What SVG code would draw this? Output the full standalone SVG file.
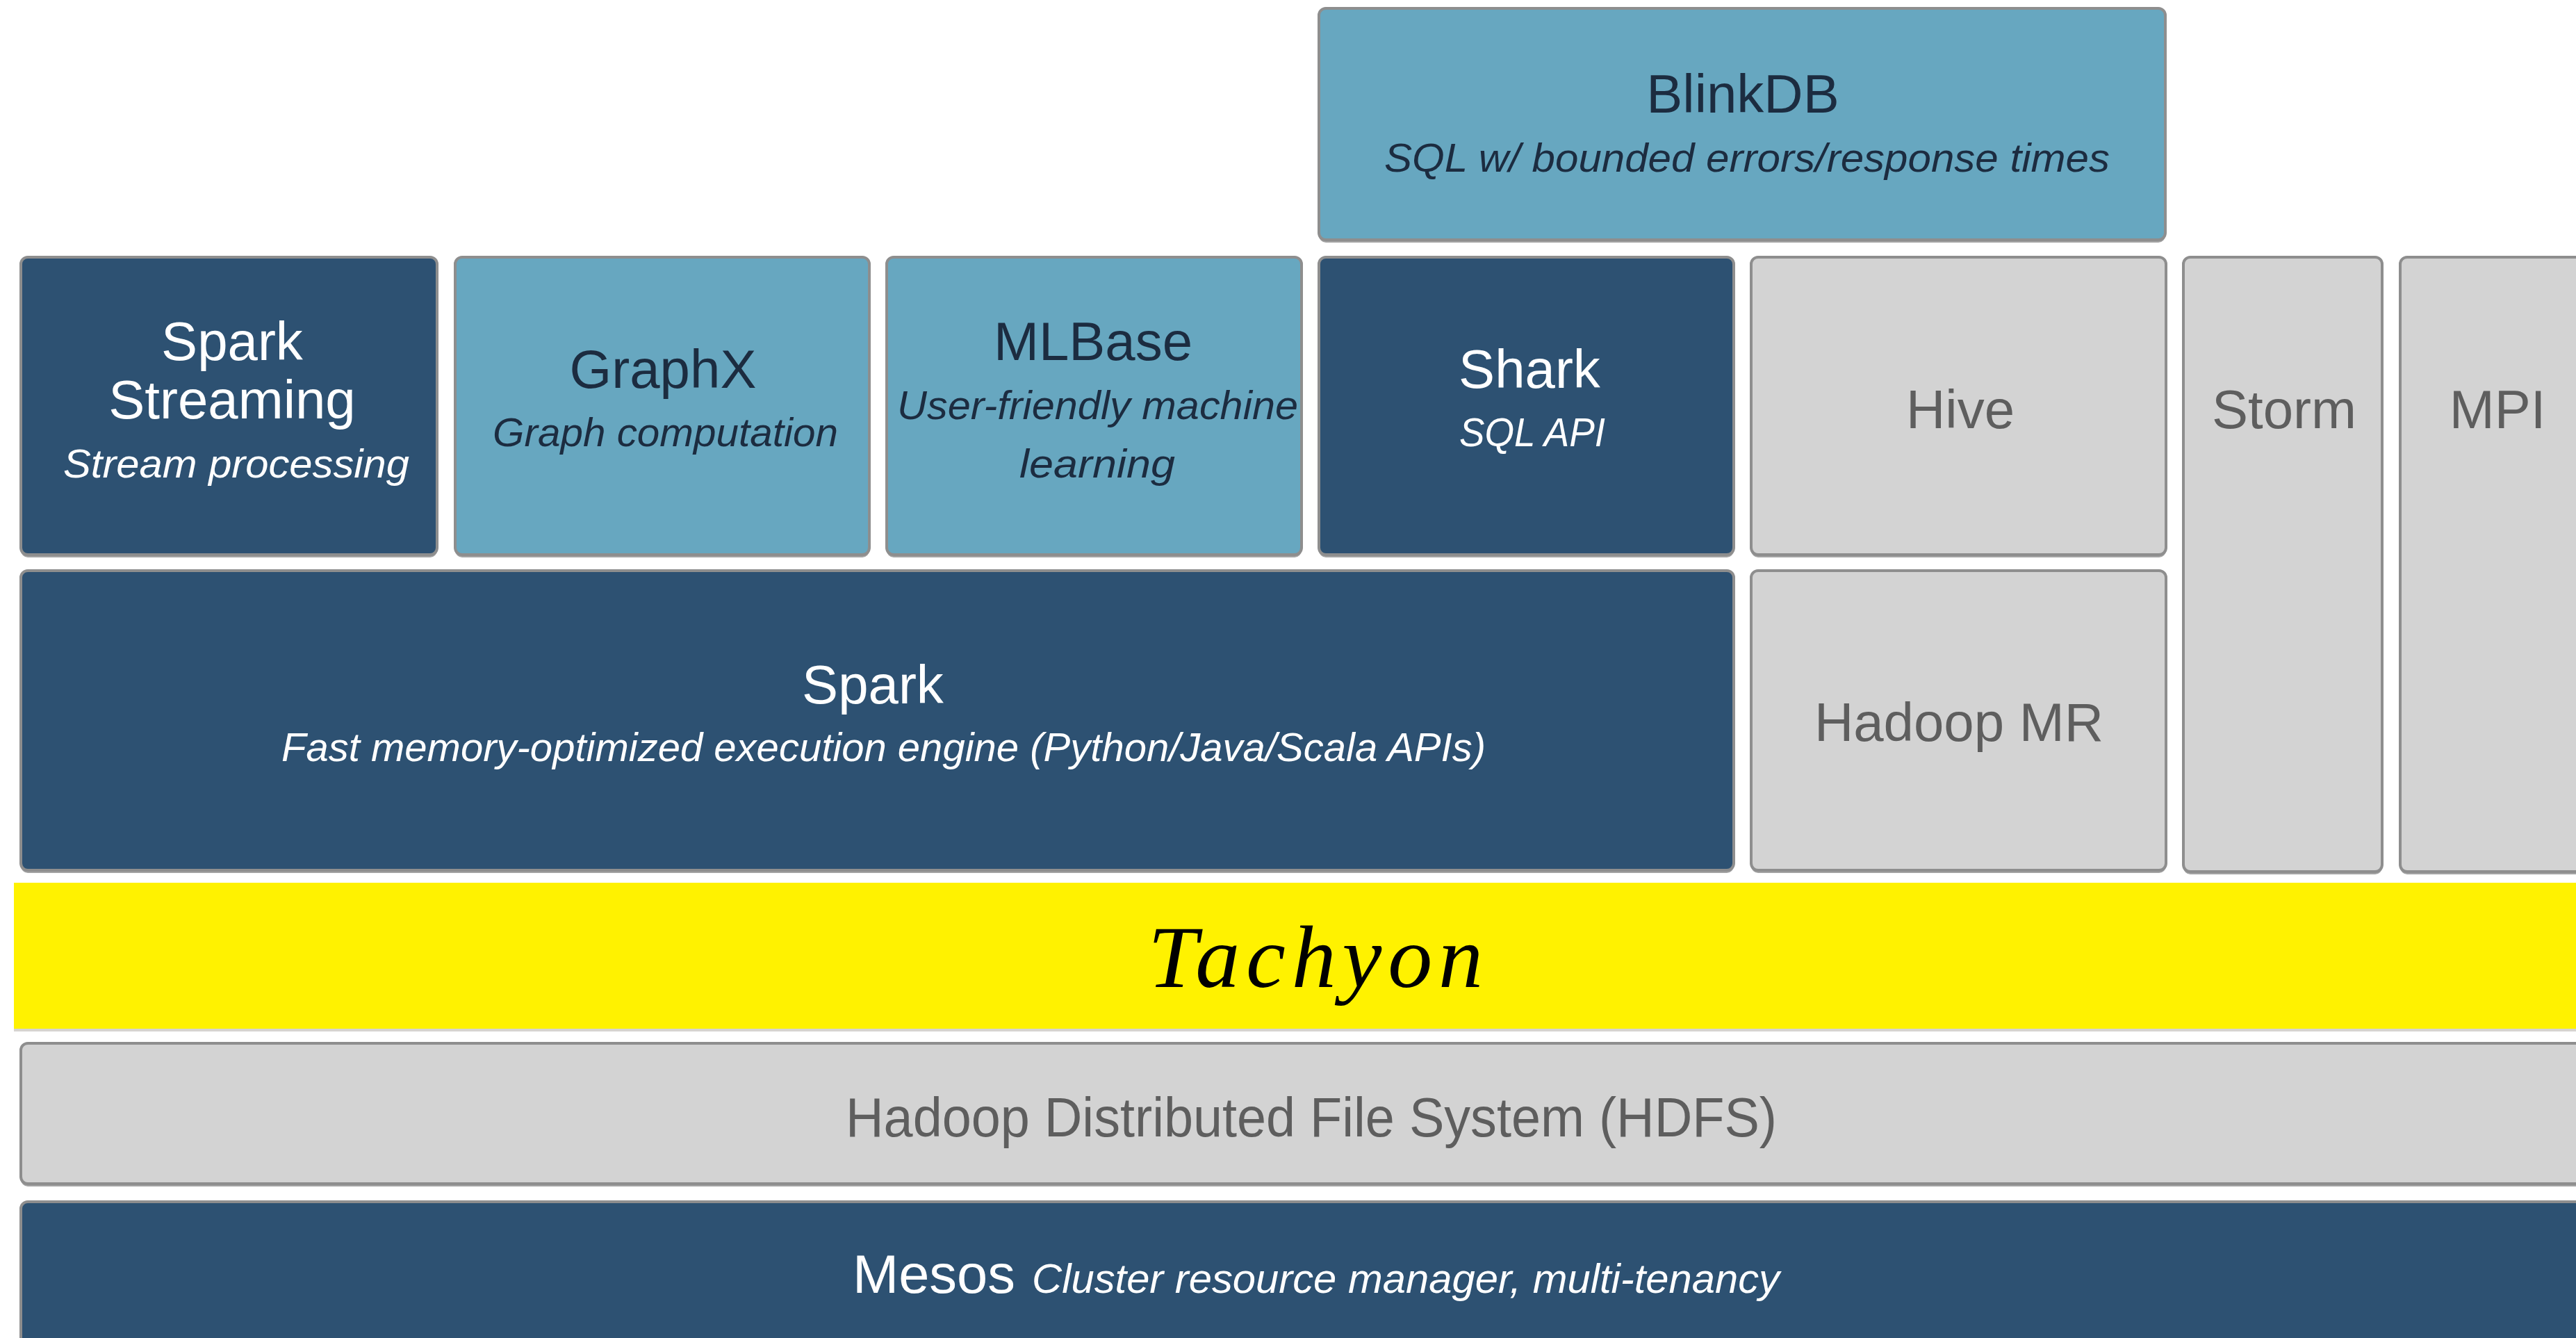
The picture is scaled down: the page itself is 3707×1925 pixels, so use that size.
<svg xmlns="http://www.w3.org/2000/svg" width="3707" height="1925" viewBox="0 0 3707 1925">
<style>
  .shadow { fill: #a3a3a3; }
  .box { stroke: #8e8e8e; stroke-width: 4; }
  .dark { fill: #2d5172; }
  .light { fill: #67a7c0; }
  .gray { fill: #d3d3d3; }
  text { font-family: "Liberation Sans", Arial, sans-serif; }
  .t { font-size: 78px; text-anchor: middle; }
  .s { font-size: 58px; font-style: italic; }
  .w { fill: #ffffff; }
  .n { fill: #1c2c40; }
  .g { fill: #5e5e5e; }
</style>
<rect x="0" y="0" width="3707" height="1925" fill="#ffffff"/>

<g id="blinkdb">
  <rect class="shadow" x="1898" y="16" width="1218" height="333" rx="10"/>
  <rect class="box light" x="1898" y="12" width="1218" height="333" rx="10"/>
  <text class="t n" x="2508" y="162">BlinkDB</text>
  <text class="s n" x="1992" y="247" textLength="1044" lengthAdjust="spacingAndGlyphs">SQL w/ bounded errors/response times</text>
</g>

<g id="spark-streaming">
  <rect class="shadow" x="30" y="374" width="599" height="428" rx="10"/>
  <rect class="box dark" x="30" y="370" width="599" height="428" rx="10"/>
  <text class="t w" x="334" y="518">Spark</text>
  <text class="t w" x="334" y="602">Streaming</text>
  <text class="s w" x="91" y="687" textLength="498" lengthAdjust="spacingAndGlyphs">Stream processing</text>
</g>

<g id="graphx">
  <rect class="shadow" x="655" y="374" width="596" height="428" rx="10"/>
  <rect class="box light" x="655" y="370" width="596" height="428" rx="10"/>
  <text class="t n" x="954" y="558">GraphX</text>
  <text class="s n" x="709" y="642" textLength="497" lengthAdjust="spacingAndGlyphs">Graph computation</text>
</g>

<g id="mlbase">
  <rect class="shadow" x="1276" y="374" width="597" height="428" rx="10"/>
  <rect class="box light" x="1276" y="370" width="597" height="428" rx="10"/>
  <text class="t n" x="1573" y="518">MLBase</text>
  <text class="s n" x="1291" y="603" textLength="577" lengthAdjust="spacingAndGlyphs">User-friendly machine</text>
  <text class="s n" x="1467" y="687" textLength="224" lengthAdjust="spacingAndGlyphs">learning</text>
</g>

<g id="shark">
  <rect class="shadow" x="1898" y="374" width="597" height="428" rx="10"/>
  <rect class="box dark" x="1898" y="370" width="597" height="428" rx="10"/>
  <text class="t w" x="2201" y="558">Shark</text>
  <text class="s w" x="2100" y="642" textLength="210" lengthAdjust="spacingAndGlyphs">SQL API</text>
</g>

<g id="hive">
  <rect class="shadow" x="2520" y="374" width="597" height="428" rx="10"/>
  <rect class="box gray" x="2520" y="370" width="597" height="428" rx="10"/>
  <text class="t g" x="2821" y="616">Hive</text>
</g>

<g id="storm">
  <rect class="shadow" x="3142" y="374" width="286" height="884" rx="10"/>
  <rect class="box gray" x="3142" y="370" width="286" height="884" rx="10"/>
  <text class="t g" x="3287" y="616">Storm</text>
</g>

<g id="mpi">
  <rect class="shadow" x="3454" y="374" width="300" height="884" rx="10"/>
  <rect class="box gray" x="3454" y="370" width="300" height="884" rx="10"/>
  <text class="t g" x="3594" y="616">MPI</text>
</g>

<g id="spark">
  <rect class="shadow" x="30" y="825" width="2465" height="431" rx="10"/>
  <rect class="box dark" x="30" y="821" width="2465" height="431" rx="10"/>
  <text class="t w" x="1256" y="1012">Spark</text>
  <text class="s w" x="405" y="1095" textLength="1733" lengthAdjust="spacingAndGlyphs">Fast memory-optimized execution engine (Python/Java/Scala APIs)</text>
</g>

<g id="hadoop-mr">
  <rect class="shadow" x="2520" y="825" width="597" height="431" rx="10"/>
  <rect class="box gray" x="2520" y="821" width="597" height="431" rx="10"/>
  <text class="t g" x="2819" y="1066">Hadoop MR</text>
</g>

<g id="tachyon">
  <rect x="20" y="1270" width="3700" height="214" fill="#d6d3d0"/>
  <rect x="20" y="1270" width="3700" height="210" fill="#fff200"/>
  <text x="1652" y="1420" textLength="482" lengthAdjust="spacing" style="font-family:'Liberation Serif','Times New Roman',serif;font-style:italic;font-size:128px;fill:#000000;">Tachyon</text>
</g>

<g id="hdfs">
  <rect class="shadow" x="30" y="1505" width="3700" height="202" rx="10"/>
  <rect class="box gray" x="30" y="1501" width="3700" height="202" rx="10"/>
  <text class="g" x="1217" y="1635" textLength="1340" lengthAdjust="spacingAndGlyphs" style="font-size:80px;">Hadoop Distributed File System (HDFS)</text>
</g>

<g id="mesos">
  <rect class="box dark" x="30" y="1729" width="3700" height="230" rx="10"/>
  <text class="w" x="1227" y="1860" textLength="234" lengthAdjust="spacingAndGlyphs" style="font-size:78px;">Mesos</text>
  <text class="s w" x="1485" y="1860" textLength="1076" lengthAdjust="spacingAndGlyphs" style="font-size:60px;">Cluster resource manager, multi-tenancy</text>
</g>

<g id="connectors"></g>
</svg>
